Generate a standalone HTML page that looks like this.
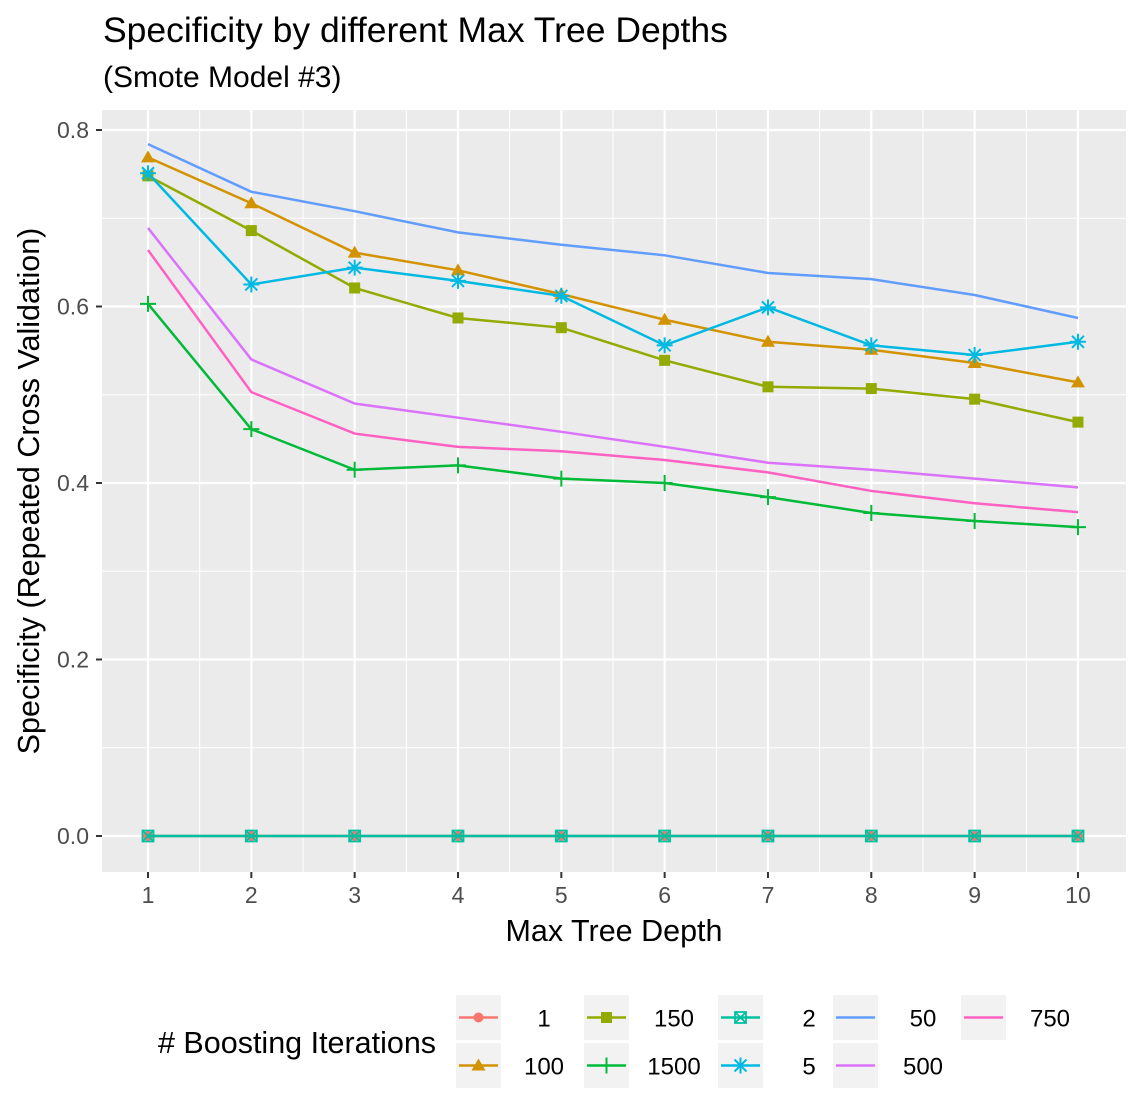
<!DOCTYPE html>
<html><head><meta charset="utf-8"><style>
body{margin:0;background:#fff}
svg{display:block;font-family:"Liberation Sans",Arial,sans-serif}
</style></head><body>
<svg id="chart" width="1141" height="1120" viewBox="0 0 1141 1120" xmlns="http://www.w3.org/2000/svg">
<text x="103" y="42" font-size="35.5" fill="#000">Specificity by different Max Tree Depths</text>
<text x="103" y="87" font-size="30" fill="#000">(Smote Model #3)</text>
<rect x="102" y="110" width="1024" height="762" fill="#EBEBEB"/>
<g id="grid"></g>
<g id="series"></g>
<g id="axes"></g>
<text x="614" y="941" font-size="30.5" text-anchor="middle" fill="#000">Max Tree Depth</text>
<text transform="translate(39,491) rotate(-90)" font-size="30.5" text-anchor="middle" fill="#000">Specificity (Repeated Cross Validation)</text>
<text x="158" y="1053" font-size="30.5" fill="#000"># Boosting Iterations</text>
<g id="legend"></g>
</svg>
<script>
const depths=[1,2,3,4,5,6,7,8,9,10];
const yTicks=[0,0.2,0.4,0.6,0.8];
const yTickLabels=["0.0","0.2","0.4","0.6","0.8"];
const seriesNames=["1","100","150","1500","2","5","50","500","750"];
const s1=[0,0,0,0,0,0,0,0,0,0];
const s100=[0.769,0.717,0.661,0.641,0.614,0.585,0.560,0.551,0.536,0.514];
const s150=[0.748,0.686,0.621,0.587,0.576,0.539,0.509,0.507,0.495,0.469];
const s1500=[0.603,0.461,0.415,0.420,0.405,0.400,0.384,0.366,0.357,0.350];
const s2=[0,0,0,0,0,0,0,0,0,0];
const s5=[0.751,0.625,0.644,0.629,0.612,0.556,0.599,0.556,0.545,0.560];
const s50=[0.784,0.730,0.708,0.684,0.670,0.658,0.638,0.631,0.613,0.587];
const s500=[0.689,0.540,0.490,0.474,0.458,0.441,0.423,0.415,0.405,0.395];
const s750=[0.664,0.503,0.456,0.441,0.436,0.426,0.412,0.391,0.377,0.367];

const NS="http://www.w3.org/2000/svg";
const X=d=>148+(d-1)*103.33;
const Y=v=>836-v*882.5;
function mk(t,a,p){const e=document.createElementNS(NS,t);for(const k in a)e.setAttribute(k,a[k]);p.appendChild(e);return e;}
const grid=document.getElementById('grid'),axes=document.getElementById('axes'),ser=document.getElementById('series'),leg=document.getElementById('legend');
for(let i=0;i<4;i++){const v=0.1+0.2*i;const l=mk('line',{x1:102,x2:1126,y1:Y(v),y2:Y(v),stroke:'#fff','stroke-width':1},grid);

}
for(let i=1;i<10;i++){const d=i+0.5;const l=mk('line',{x1:X(d),x2:X(d),y1:110,y2:872,stroke:'#fff','stroke-width':1},grid);

}
yTicks.forEach((v,i)=>{const l=mk('line',{x1:102,x2:1126,y1:Y(v),y2:Y(v),stroke:'#fff','stroke-width':2.2},grid);


const t=mk('line',{x1:96,x2:102,y1:Y(v),y2:Y(v),stroke:'#333','stroke-width':2},axes);


const tx=mk('text',{x:89,y:Y(v)+8,'font-size':23,'text-anchor':'end',fill:'#4D4D4D'},axes);tx.textContent=yTickLabels[i];

});
depths.forEach(d=>{const l=mk('line',{x1:X(d),x2:X(d),y1:110,y2:872,stroke:'#fff','stroke-width':2.2},grid);


const t=mk('line',{x1:X(d),x2:X(d),y1:872,y2:878,stroke:'#333','stroke-width':2},axes);


const tx=mk('text',{x:X(d),y:903,'font-size':23,'text-anchor':'middle',fill:'#4D4D4D'},axes);tx.textContent=d;

});

const colors={"1":"#F8766D","100":"#D39200","150":"#93AA00","1500":"#00BA38","2":"#00C19F","5":"#00B9E3","50":"#619CFF","500":"#DB72FB","750":"#FF61C3"};
const shapes={"1":"circle","100":"triangle","150":"square","1500":"plus","2":"boxx","5":"star"};
const vals={"1":s1,"100":s100,"150":s150,"1500":s1500,"2":s2,"5":s5,"50":s50,"500":s500,"750":s750};
function marker(shape,x,y,c,p){
 if(shape==='circle')return mk('circle',{cx:x,cy:y,r:5,fill:c},p);
 if(shape==='triangle')return mk('polygon',{points:`${x},${y-7} ${x-7},${y+5} ${x+7},${y+5}`,fill:c},p);
 if(shape==='square')return mk('rect',{x:x-5.5,y:y-5.5,width:11,height:11,fill:c},p);
 if(shape==='plus')return mk('path',{d:`M${x-8},${y}H${x+8}M${x},${y-8}V${y+8}`,stroke:c,'stroke-width':2,fill:'none'},p);
 if(shape==='boxx')return mk('path',{d:`M${x-5.5},${y-5.5}h11v11h-11zM${x-5.5},${y-5.5}L${x+5.5},${y+5.5}M${x+5.5},${y-5.5}L${x-5.5},${y+5.5}`,stroke:c,'stroke-width':1.8,fill:'none'},p);
 if(shape==='star')return mk('path',{d:`M${x-8},${y}H${x+8}M${x},${y-8}V${y+8}M${x-6},${y-6}L${x+6},${y+6}M${x+6},${y-6}L${x-6},${y+6}`,stroke:c,'stroke-width':2,fill:'none'},p);
}
seriesNames.forEach(n=>{
 const g=mk('g',{},ser);
 
 
 const pts=depths.map((d,i)=>X(d)+','+Y(vals[n][i])).join(' ');
 const pl=mk('polyline',{points:pts,fill:'none',stroke:colors[n],'stroke-width':2.5},g);
 
 
 if(shapes[n])depths.forEach((d,i)=>{const m=marker(shapes[n],X(d),Y(vals[n][i]),colors[n],g);
  
  });
});
const legCols=[["1","100"],["150","1500"],["2","5"],["50","500"],["750"]];
const keyX=[456,584,718,833,961];
const labX=[544,674,809,923,1050];
legCols.forEach((col,ci)=>col.forEach((n,ri)=>{
 const y0=995+ri*48;
 const g=mk('g',{},leg);
 
 
 mk('rect',{x:keyX[ci],y:y0,width:45,height:45,fill:'#F2F2F2'},g);
 const cy=y0+22.5,cx=keyX[ci]+22.5;
 mk('line',{x1:keyX[ci]+3,x2:keyX[ci]+42,y1:cy,y2:cy,stroke:colors[n],'stroke-width':2.5},g);
 if(shapes[n])marker(shapes[n],cx,cy,colors[n],g);
 const t=mk('text',{x:labX[ci],y:cy+9,'font-size':24,'text-anchor':'middle',fill:'#000'},g);t.textContent=n;
}));
</script>
</body></html>
